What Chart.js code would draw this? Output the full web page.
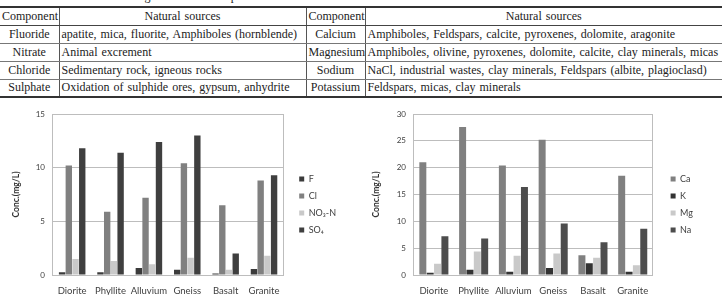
<!DOCTYPE html>
<html>
<head>
<meta charset="utf-8">
<script src="https://cdn.jsdelivr.net/npm/chart.js@4/dist/chart.umd.min.js"></script>
<style>
body{margin:0;width:722px;height:297px;overflow:hidden;background:#fff;position:relative;font-family:"Liberation Serif",serif;color:#222;}
.cap{position:absolute;left:2px;top:-11px;font-size:12px;word-spacing:2px;white-space:nowrap;}
table{position:absolute;left:0;top:6px;width:722px;table-layout:fixed;border-collapse:collapse;font-size:12px;word-spacing:1px;}
th,td{height:18px;box-sizing:border-box;line-height:13px;padding:0 2px;border-left:1px solid #555;white-space:nowrap;overflow:hidden;font-weight:normal;}
th:first-child,td:first-child{border-left:none;}
tr:first-child th{border-top:2px solid #333;border-bottom:1.5px solid #444;text-align:center;}
tr td{border-bottom:1px solid #777;}
tr:last-child td{border-bottom:2px solid #333;}
td.c{text-align:center;}
.box{position:absolute;top:100px;width:361px;height:197px;}
</style>
</head>
<body>
<div class="cap">Table 1. Natural sources of groundwater components</div>
<table>
<colgroup><col style="width:59px"><col style="width:247px"><col style="width:59px"><col style="width:357px"></colgroup>
<tr><th>Component</th><th>Natural sources</th><th>Component</th><th>Natural sources</th></tr>
<tr><td class="c">Fluoride</td><td>apatite, mica, fluorite, Amphiboles (hornblende)</td><td class="c">Calcium</td><td>Amphiboles, Feldspars, calcite, pyroxenes, dolomite, aragonite</td></tr>
<tr><td class="c">Nitrate</td><td>Animal excrement</td><td class="c">Magnesium</td><td>Amphiboles, olivine, pyroxenes, dolomite, calcite, clay minerals, micas</td></tr>
<tr><td class="c">Chloride</td><td>Sedimentary rock, igneous rocks</td><td class="c">Sodium</td><td>NaCl, industrial wastes, clay minerals, Feldspars (albite, plagioclasd)</td></tr>
<tr><td class="c">Sulphate</td><td>Oxidation of sulphide ores, gypsum, anhydrite</td><td class="c">Potassium</td><td>Feldspars, micas, clay minerals</td></tr>
</table>
<div class="box" style="left:0"><canvas id="anion" width="361" height="197"></canvas></div>
<div class="box" style="left:361px"><canvas id="cation" width="361" height="197"></canvas></div>
<script>
// ---- 데이터 ----
const rocks = ['Diorite', 'Phyllite', 'Alluvium', 'Gneiss', 'Basalt', 'Granite'];

// 음이온 (mg/L)
const valF   = [0.25, 0.25, 0.65, 0.5, 0.15, 0.55];
const valCl  = [10.2, 5.9, 7.2, 10.4, 6.5, 8.8];
const valNO3 = [1.5, 1.3, 1.0, 1.6, 0.5, 1.8];
const valSO4 = [11.8, 11.4, 12.4, 13.0, 2.0, 9.3];

// 양이온 (mg/L)
const valCa = [21.0, 27.6, 20.4, 25.2, 3.7, 18.5];
const valK  = [0.4, 1.0, 0.6, 1.3, 2.2, 0.6];
const valMg = [2.1, 4.4, 3.6, 4.0, 3.2, 1.8];
const valNa = [7.2, 6.8, 16.4, 9.6, 6.1, 8.6];

const anionMax = 15, cationMax = 30, tickStep = 5;

const lineCol = '#bdbdbd';
const txtCol = '#404040';

function drawChart(id, sets, yMax, opt){
	new Chart(document.getElementById(id), {
		type: 'bar',
		data: {
			labels: rocks,
			datasets: sets.map(s => ({
				label: s[0], data: s[1], backgroundColor: s[2],
				barPercentage: 0.95, categoryPercentage: opt.cat
			}))
		},
		options: {
			responsive: false,
			animation: false,
			layout: { padding: { left: opt.left, top: 14, bottom: 2, right: opt.right } },
			plugins: {
				tooltip: { enabled: false },
				legend: {
					position: 'right',
					labels: { boxWidth: 5, boxHeight: 5, padding: 8, color: txtCol,
						font: { family: 'Lato', size: 9 } }
				}
			},
			scales: {
				x: {
					grid: { display: false, drawTicks: false },
					border: { color: lineCol },
					ticks: { color: txtCol, padding: 12, maxRotation: 0, minRotation: 0, autoSkip: false,
						font: { family: 'Lato', size: 9.5, lineHeight: 0.8 } },
					afterFit: s => { s.height = 20; }	// 축 높이 고정
				},
				y: {
					min: 0, max: yMax,
					grid: { color: lineCol, drawTicks: false },
					border: { color: lineCol },
					ticks: { stepSize: tickStep, color: txtCol, padding: 8, font: { family: 'Lato', size: 8 } },
					title: { display: true, text: 'Conc.(mg/L)', color: '#333',
						font: { family: 'Lato', size: 8.5, weight: 'bold' },
						padding: { top: 3, bottom: opt.tb } }
				},
				y2: {
					position: 'right', min: 0, max: yMax,
					grid: { display: false, drawTicks: false },
					border: { color: lineCol },
					ticks: { display: false },
					afterFit: s => { s.width = opt.gap; }
				}
			}
		}
	});
}

drawChart('anion', [
	['F', valF, '#3b3b3b'],
	['Cl', valCl, '#808080'],
	['NO\u2083-N', valNO3, '#c9c9c9'],
	['SO\u2084', valSO4, '#3f3f3f']
], anionMax, { left: 8, right: 15, tb: 6.5, gap: 8, cat: 0.7 });

drawChart('cation', [
	['Ca', valCa, '#808080'],
	['K', valK, '#333333'],
	['Mg', valMg, '#c9c9c9'],
	['Na', valNa, '#4d4d4d']
], cationMax, { left: 7, right: 19, tb: 7.5, gap: 10, cat: 0.74 });
</script>
</body>
</html>
